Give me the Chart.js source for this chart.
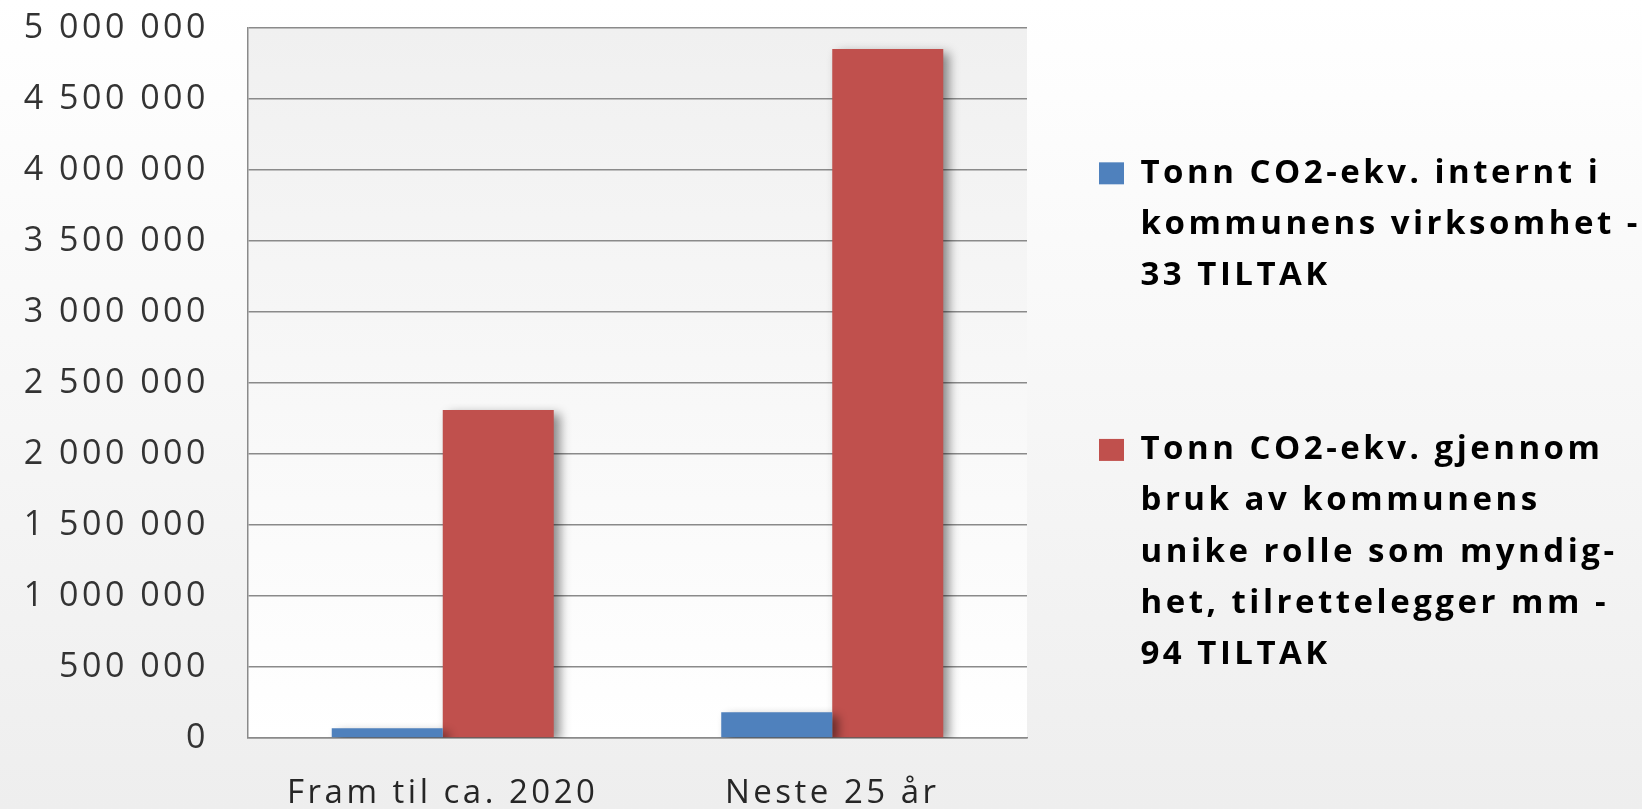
<!DOCTYPE html>
<html>
<head>
<meta charset="utf-8">
<script src="https://cdn.jsdelivr.net/npm/chart.js@4/dist/chart.umd.min.js"></script>
<style>
  html, body { margin: 0; padding: 0; }
  #wrap { width: 1642px; height: 809px; }
</style>
</head>
<body>
<div id="wrap"><canvas id="tiltak-chart"></canvas></div>
<script>
const categories = ['Fram til ca. 2020', 'Neste 25 år'];
const internt = [68000, 181000];
const myndighet = [2310000, 4852000];
const seriesNames = [
  ['Tonn CO2-ekv. internt i', 'kommunens virksomhet -', '33 TILTAK'],
  ['Tonn CO2-ekv. gjennom', 'bruk av kommunens', 'unike rolle som myndig-', 'het, tilrettelegger mm -', '94 TILTAK'],
];
const seriesColors = ['#4F81BD', '#C0504D'];

const SPACING = '3.5px';

// excel-ish backgrounds + wider letter spacing
const backdrop = {
  id: 'backdrop',
  beforeLayout(chart) {
    chart.ctx.letterSpacing = SPACING;
  },
  afterLayout(chart) {
    // legend clips to its box, let the long lines run to the edge
    if (chart.legend) chart.legend.right = chart.width;
  },
  beforeDraw(chart) {
    const { ctx, width, height, chartArea: a } = chart;
    ctx.letterSpacing = SPACING;
    ctx.save();
    let g = ctx.createLinearGradient(0, 0, 0, height);
    g.addColorStop(0, '#ffffff');
    g.addColorStop(1, '#eeeeee');
    ctx.fillStyle = g;
    ctx.fillRect(0, 0, width, height);
    g = ctx.createLinearGradient(0, a.top, 0, a.bottom);
    g.addColorStop(0, '#f0f0f0');
    g.addColorStop(1, '#ffffff');
    ctx.fillStyle = g;
    ctx.fillRect(a.left, a.top, a.right - a.left, a.bottom - a.top);
    ctx.restore();
  },
};

const barShadow = {
  id: 'barShadow',
  beforeDatasetsDraw(chart) {
    const { ctx } = chart;
    ctx.save();
    ctx.shadowColor = 'rgba(0, 0, 0, 0.45)';
    ctx.shadowBlur = 10;
    ctx.shadowOffsetX = 6;
    ctx.shadowOffsetY = 4;
  },
  afterDatasetsDraw(chart) {
    chart.ctx.restore();
  },
};

const spaced = v => String(v).replace(/\B(?=(\d{3})+(?!\d))/g, ' ');

new Chart('tiltak-chart', {
  type: 'bar',
  data: {
    labels: categories,
    datasets: [
      { label: seriesNames[0].join(' '), data: internt, backgroundColor: seriesColors[0] },
      { label: seriesNames[1].join(' '), data: myndighet, backgroundColor: seriesColors[1] },
    ],
  },
  options: {
    responsive: true,
    maintainAspectRatio: false,
    animation: false,
    categoryPercentage: 0.57,
    barPercentage: 1,
    // negative top/bottom only stretch the legend column
    layout: { padding: { top: -4, left: 0, right: 23, bottom: -41 } },
    scales: {
      x: {
        grid: { display: false },
        border: { display: true, color: '#8a8a8a', width: 1.5 },
        afterFit(scale) {
          scale.height = 112;
        },
        ticks: {
          padding: 28,
          color: '#262626',
          font: { family: 'Open Sans', size: 33 },
        },
      },
      y: {
        min: 0,
        max: 5000000,
        grid: { color: '#8a8a8a', lineWidth: 1.5, drawTicks: false },
        border: { display: true, color: '#8a8a8a', width: 1.5 },
        afterFit(scale) {
          scale.width = 248;
          scale.paddingTop = 28; // plot top at 28px, tick padding would push it down
          scale.paddingBottom = 0;
        },
        ticks: {
          stepSize: 500000,
          padding: 39,
          color: '#333333',
          font: { family: 'Open Sans', size: 34 },
          callback: v => spaced(v),
        },
      },
    },
    plugins: {
      tooltip: { enabled: false },
      legend: {
        position: 'right',
        align: 'center',
        maxWidth: 617,
        labels: {
          boxWidth: 25,
          boxHeight: 22,
          padding: 72,
          color: '#000000',
          font: { family: 'Open Sans', size: 33, weight: 'bold', lineHeight: 1.55 },
          generateLabels(chart) {
            return chart.data.datasets.map((ds, i) => ({
              // blank line keeps the gap between the two entries
              text: i === 0 ? seriesNames[i].concat(['']) : seriesNames[i],
              fillStyle: ds.backgroundColor,
              strokeStyle: ds.backgroundColor,
              fontColor: '#000000',
              lineWidth: 0,
              hidden: false,
              datasetIndex: i,
            }));
          },
        },
      },
    },
  },
  plugins: [backdrop, barShadow],
});
</script>
</body>
</html>
